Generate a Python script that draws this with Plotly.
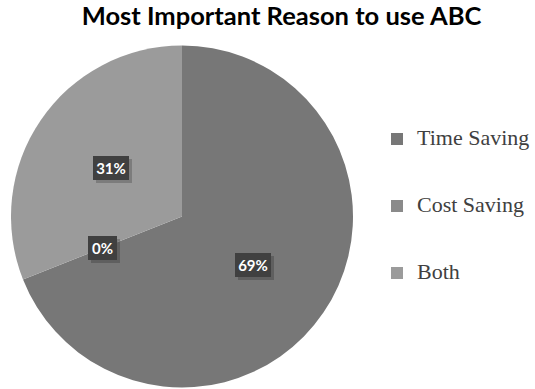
import math
import plotly.graph_objects as go

# ---- data ----
labels = ["Time Saving", "Cost Saving", "Both"]
values = [69, 0, 31]
pct_text = ["69%", "0%", "31%"]
colors = ["#777777", "#8a8a8a", "#9b9b9b"]
title_text = "Most Important Reason to use ABC"

# ---- layout constants ----
W, H = 535, 389
cx, cy, R = 182, 216.5, 171  # pie centre / radius in px

dom_x = [(cx - R) / W, (cx + R) / W]
dom_y = [(H - cy - R) / H, (H - cy + R) / H]

legend_labels = ["<br><span style='font-size:22px'>%s</span><br>" % l for l in labels]

fig = go.Figure()
fig.add_trace(go.Pie(
    labels=legend_labels,
    values=values,
    marker=dict(colors=colors, line=dict(width=0)),
    sort=False,
    direction="clockwise",
    rotation=0,
    textinfo="none",
    hoverinfo="percent",
    domain=dict(x=dom_x, y=dom_y),
    showlegend=True,
))

# data labels placed at mid-angle, half radius
total = sum(values)
cum = 0
annotations = []
for v, t in zip(values, pct_text):
    mid = (cum + v / 2) / total * 2 * math.pi
    cum += v
    px = cx + 0.5 * R * math.sin(mid)
    py = cy - 0.5 * R * math.cos(mid)
    ax, ay = px / W, (H - py) / H
    bw = 7 * len(t) + 15
    # shadow box
    annotations.append(dict(
        x=ax, y=ay, xref="paper", yref="paper", xanchor="center", yanchor="middle",
        text="&nbsp;", showarrow=False, width=bw, height=24,
        font=dict(family="Lato", size=15, color="rgba(0,0,0,0)"),
        bgcolor="rgba(0,0,0,0.2)", borderpad=0, borderwidth=0, xshift=3, yshift=-3,
    ))
    annotations.append(dict(
        x=ax, y=ay, xref="paper", yref="paper", xanchor="center", yanchor="middle",
        text="<b>%s</b>" % t, showarrow=False, width=bw, height=24,
        font=dict(family="Lato", size=15, color="white"),
        bgcolor="#404040", borderpad=0, borderwidth=0,
    ))

fig.update_layout(
    width=W, height=H,
    margin=dict(l=0, r=0, t=0, b=0, autoexpand=False),
    paper_bgcolor="white",
    title=dict(
        text="<b>%s</b>" % title_text,
        font=dict(family="Lato", size=25.5, color="black"),
        x=281.5 / W, xanchor="center", xref="paper",
        y=1 - 16.5 / H, yanchor="middle", yref="container",
    ),
    legend=dict(
        x=1, xanchor="right",
        y=(H - 206) / H, yanchor="middle",
        font=dict(family="Liberation Serif", size=16.4, color="#404040"),
        bgcolor="rgba(0,0,0,0)",
        itemwidth=30,
    ),
    annotations=annotations,
)

fig.write_html(
    "out.html",
    config={"displayModeBar": False},
    post_script="document.body.style.margin='0px';",
)
